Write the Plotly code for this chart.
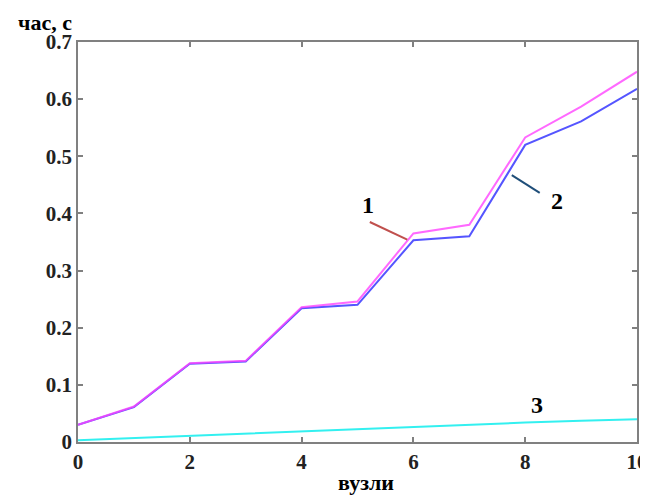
import plotly.graph_objects as go

nodes = [0, 1, 2, 3, 4, 5, 6, 7, 8, 9, 10]
series1 = [0.030, 0.062, 0.138, 0.142, 0.236, 0.246, 0.365, 0.380, 0.533, 0.587, 0.648]
series2 = [0.030, 0.061, 0.137, 0.141, 0.234, 0.240, 0.353, 0.360, 0.520, 0.561, 0.618]
series3 = [0.003, 0.007, 0.011, 0.015, 0.019, 0.023, 0.027, 0.031, 0.034, 0.037, 0.040]
x_ticks = [0, 2, 4, 6, 8, 10]
y_ticks = [0, 0.1, 0.2, 0.3, 0.4, 0.5, 0.6, 0.7]
y_tick_labels = ["0", "0.1", "0.2", "0.3", "0.4", "0.5", "0.6", "0.7"]

font_family = "Liberation Serif, Times New Roman, serif"

fig = go.Figure()
fig.add_trace(go.Scatter(x=nodes, y=series3, mode="lines",
                         line=dict(color="#33f0f0", width=2), showlegend=False))
fig.add_trace(go.Scatter(x=nodes, y=series2, mode="lines",
                         line=dict(color="#5555ff", width=2), showlegend=False))
fig.add_trace(go.Scatter(x=nodes, y=series1, mode="lines",
                         line=dict(color="#ff44ff", width=2), opacity=0.8, showlegend=False))

# leader lines for labels
fig.add_shape(type="line", x0=5.22, y0=0.385, x1=5.89, y1=0.354,
              line=dict(color="#c0504d", width=2))
fig.add_shape(type="line", x0=7.76, y0=0.467, x1=8.26, y1=0.436,
              line=dict(color="#1f4e79", width=2))

lbl_font = dict(family=font_family, size=24, color="black")
fig.add_annotation(x=5.19, y=0.415, text="<b>1</b>", showarrow=False, font=lbl_font)
fig.add_annotation(x=8.57, y=0.422, text="<b>2</b>", showarrow=False, font=lbl_font)
fig.add_annotation(x=8.21, y=0.065, text="<b>3</b>", showarrow=False, font=lbl_font)

title_font = dict(family=font_family, size=22, color="black")
fig.add_annotation(x=0, y=1, xref="paper", yref="paper", xanchor="right", yanchor="middle",
                   xshift=-4, yshift=20, text="<b>час, с</b>", showarrow=False, font=title_font)
fig.add_annotation(x=0.515, y=0, xref="paper", yref="paper", xanchor="center", yanchor="bottom",
                   yshift=-55, text="<b>вузли</b>", showarrow=False, font=title_font)

axis_common = dict(showgrid=False, zeroline=False, showline=True, linecolor="#808080",
                   linewidth=1.5, mirror="ticks", ticks="inside", ticklen=5,
                   tickcolor="#808080", tickwidth=1.5, automargin=False,
                   tickfont=dict(family=font_family, size=21, color="#222222"))

fig.update_xaxes(range=[0, 10], tickvals=x_ticks,
                 ticktext=[f"<b>{t}</b>" for t in x_ticks],
                 **axis_common)
fig.update_yaxes(range=[0, 0.7], tickvals=y_ticks,
                 ticktext=[f"<b>{t}</b>" for t in y_tick_labels],
                 **axis_common)

# the page body adds an 8px margin, so the figure is sized to fit inside the window
fig.update_layout(width=640, height=489, margin=dict(l=70, r=11, t=34, b=55),
                  plot_bgcolor="white", paper_bgcolor="white")

fig.write_html("out.html")
